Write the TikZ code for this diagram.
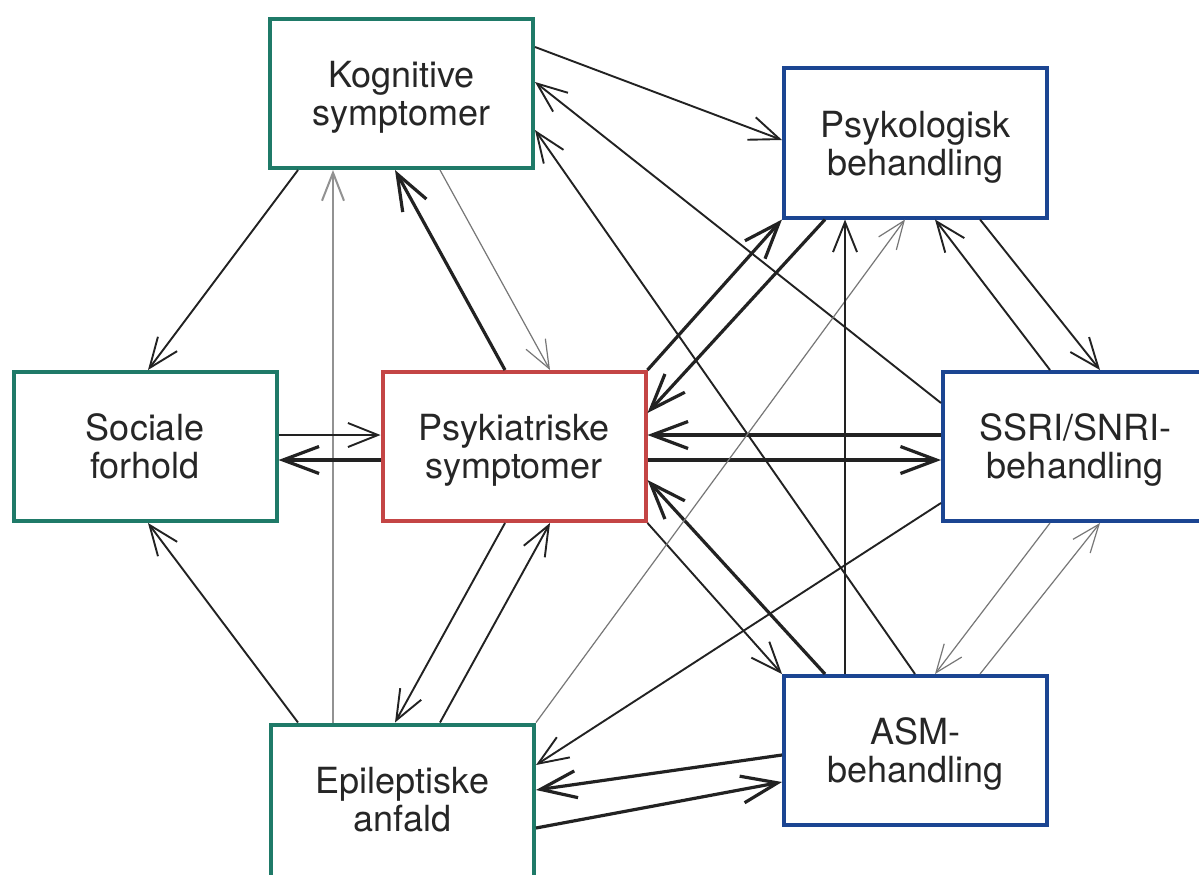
\documentclass[tikz,border=0pt]{standalone}
\usepackage{fontspec}
\setmainfont{TeX Gyre Heros}
\usetikzlibrary{arrows.meta}
\definecolor{boxgreen}{HTML}{1F7A68}
\definecolor{boxblue}{HTML}{1B4592}
\definecolor{boxred}{HTML}{C44545}
\definecolor{txtcol}{HTML}{262626}
\definecolor{linecol}{HTML}{222222}
\definecolor{greyline}{HTML}{777777}
\newcommand\boxtxt[3][6pt]{\raisebox{#1}[0pt][0pt]{\begin{tabular}[t]{@{}c@{}}#2\\#3\end{tabular}}}
\begin{document}
\begin{tikzpicture}[x=1pt,y=-1pt,
  box/.style={draw, line width=4pt, minimum width=263pt, minimum height=149pt,
    inner sep=0pt, font=\fontsize{36}{38}\selectfont, text=txtcol, fill=white},
  gbox/.style={box, draw=boxgreen},
  bbox/.style={box, draw=boxblue},
  rbox/.style={box, draw=boxred},
  norm/.style={draw=linecol, line width=1.9pt, -{Straight Barb[length=30pt,width=24pt]}},
  thk/.style={draw=linecol, line width=3.2pt, -{Straight Barb[length=36pt,width=27pt]}},
  thin/.style={draw=greyline, line width=1.2pt, -{Straight Barb[length=28pt,width=22pt]}},
  vgrey/.style={draw=greyline!80, line width=2pt, -{Straight Barb[length=28pt,width=22pt]}},
]
\useasboundingbox (0,0) rectangle (1199,875);
\clip (0,0) rectangle (1199,875);
\fill[white] (0,0) rectangle (1199,875);

\node[gbox] (K) at (401.5,93.5) {\boxtxt{Kognitive}{symptomer}};
\node[bbox] (P) at (915.5,143) {\boxtxt{Psykologisk}{behandling}};
\node[gbox] (S) at (145,446.5) {\boxtxt{Sociale}{forhold}};
\node[rbox] (C) at (514,446.5) {\boxtxt{Psykiatriske}{symptomer}};
\node[bbox, minimum width=273pt] (R) at (1079.5,446.5) {\kern-9pt\boxtxt{SSRI/SNRI-}{behandling}};
\node[gbox, minimum height=159pt] (E) at (402.5,804) {\boxtxt[10.5pt]{Epileptiske}{anfald}};
\node[bbox] (A) at (915.5,750.5) {\boxtxt{ASM-}{behandling}};

% Kognitive
\draw[norm] (K.east |- 0,47) -- (P.west |- 0,140);
\draw[norm] (R.west |- 0,403) -- (K.east |- 0,82);
\draw[norm] (A.north -| 915,0) -- (K.east |- 0,130);
\draw[norm] (K.south -| 298,0) -- (S.north -| 148,0);
\draw[vgrey] (E.north -| 333,0) -- (K.south -| 333,0);
\draw[thk] (C.north -| 505,0) -- (K.south -| 395,0);
\draw[thin] (K.south -| 440,0) -- (C.north -| 550,0);
% Sociale
\draw[norm] (S.east |- 0,435) -- (C.west |- 0,435);
\draw[thk] (C.west |- 0,460) -- (S.east |- 0,460);
\draw[norm] (E.north -| 298,0) -- (S.south -| 148,0);
% Psykiatriske - Epileptiske
\draw[norm] (C.south -| 505,0) -- (E.north -| 395,0);
\draw[norm] (E.north -| 440,0) -- (C.south -| 550,0);
% Psykiatriske - behandling
\draw[thk] (C.north east) -- (P.south west);
\draw[thk] (P.south -| 825,0) -- (C.east |- 0,413);
\draw[thk] (R.west |- 0,435) -- (C.east |- 0,435);
\draw[thk] (C.east |- 0,460) -- (R.west |- 0,460);
\draw[thk] (A.north -| 825,0) -- (C.east |- 0,480);
\draw[norm] (C.south east) -- (A.north west);
% Epileptiske
\draw[thin] (E.north east) -- (P.south -| 905,0);
\draw[norm] (R.west |- 0,503) -- (E.east |- 0,765);
\draw[thk] (A.west |- 0,755) -- (E.east |- 0,790);
\draw[thk] (E.east |- 0,828) -- (A.west |- 0,782);
% behandlinger
\draw[norm] (A.north -| 845,0) -- (P.south -| 845,0);
\draw[norm] (R.north -| 1050,0) -- (P.south -| 935,0);
\draw[norm] (P.south -| 980,0) -- (R.north -| 1100,0);
\draw[thin] (R.south -| 1050,0) -- (A.north -| 935,0);
\draw[thin] (A.north -| 980,0) -- (R.south -| 1100,0);
\end{tikzpicture}
\end{document}
